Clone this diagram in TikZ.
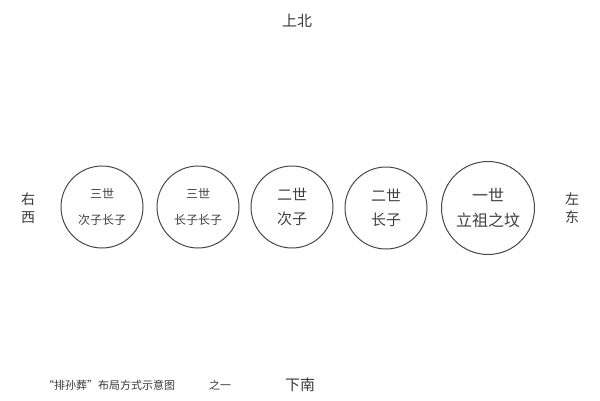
\documentclass[tikz,border=0pt]{standalone}
\usepackage{fontspec}
\newfontfamily\cjk{Noto Sans CJK SC}
\begin{document}
\begin{tikzpicture}[x=1pt, y=-1pt,
    tomb/.style = {circle, draw = black!72, line width = 1pt, inner sep = 0pt,
                   minimum size = 82pt, align = center, text = black!75},
    dirlabel/.style = {text = black!78, align = center, inner sep = 0pt}]
        \useasboundingbox (0,0) rectangle (600,400);
        \node[dirlabel, font = \cjk\fontsize{15}{18}\selectfont] (north) at (297, 21) {上北};
        \node[dirlabel, font = \cjk\fontsize{15}{18}\selectfont] (south) at (300, 385) {下南};
        \node[dirlabel, font = \cjk\fontsize{14}{18}\selectfont] (west) at (28, 208) {右\\西};
        \node[dirlabel, font = \cjk\fontsize{14}{18}\selectfont] (east) at (572, 208) {左\\东};
        \node[tomb, font = \cjk\fontsize{12}{26}\selectfont] (g3b) at (102, 207) {三世\\次子长子};
        \node[tomb, font = \cjk\fontsize{12}{26}\selectfont] (g3a) at (198, 207) {三世\\长子长子};
        \node[tomb, font = \cjk\fontsize{15}{24}\selectfont] (g2b) at (292, 207) {二世\\次子};
        \node[tomb, font = \cjk\fontsize{15}{24}\selectfont] (g2a) at (386, 208) {二世\\长子};
        \node[tomb, minimum size = 93pt, font = \cjk\fontsize{16}{25}\selectfont] (g1) at (488, 208) {一世\\立祖之坟};
        \node[dirlabel, anchor = west, font = \cjk\fontsize{11}{13}\selectfont] (caption) at (43, 385)
            {“排孙葬”布局方式示意图\hspace{34pt}之一};
    \end{tikzpicture}
\end{document}
